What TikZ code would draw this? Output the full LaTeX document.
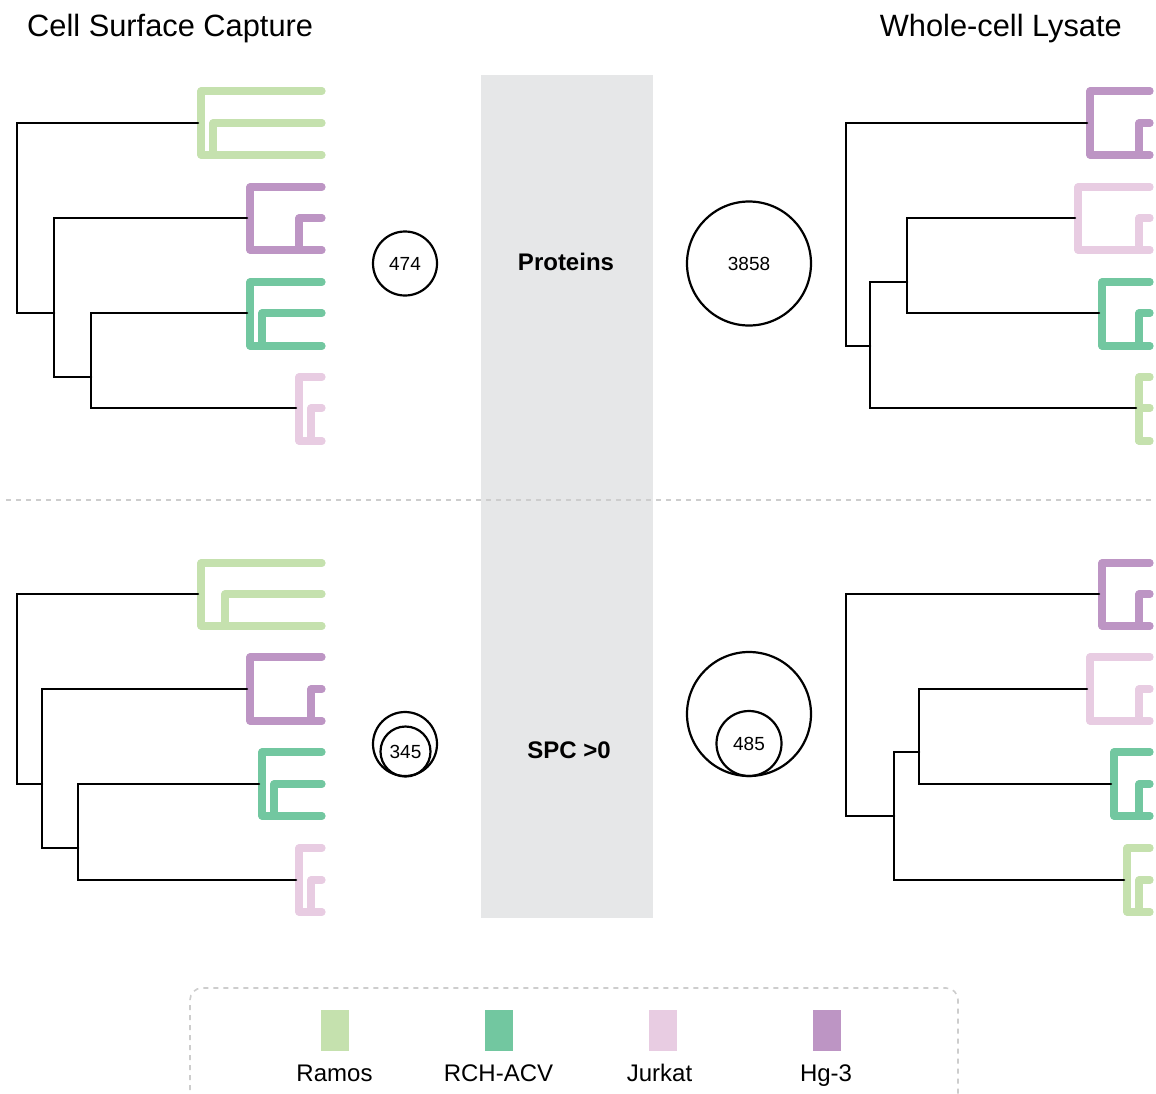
\documentclass[tikz,border=0pt]{standalone}
\usepackage{fontspec}
\setmainfont{Liberation Sans}

\definecolor{ramos}{RGB}{197,225,174}
\definecolor{rch}{RGB}{114,199,160}
\definecolor{jurkat}{RGB}{232,204,226}
\definecolor{hgthree}{RGB}{189,149,196}
\definecolor{panelgray}{RGB}{230,231,232}
\definecolor{dashgray}{RGB}{205,205,205}

\tikzset{
  clade/.style={line width=7.2pt, line cap=round, line join=round},
  stem/.style={line width=2.6pt, black, line cap=round},
  venn/.style={circle, draw=black, line width=2.2pt, inner sep=0pt,
               font=\fontsize{19}{22}\selectfont},
  heading/.style={inner sep=0pt, font=\fontsize{30.8}{36}\selectfont},
  rowlabel/.style={inner sep=0pt, font=\fontsize{24}{28}\selectfont\bfseries},
  swatch/.style={inner sep=0pt, minimum width=28pt, minimum height=41pt},
  keylabel/.style={inner sep=0pt, anchor=base, font=\fontsize{24}{28}\selectfont},
  divider/.style={dashgray, line width=2.5pt, dash pattern=on 5pt off 5pt},
}

% one coloured clade: colour, outer x, inner x, top y, middle y, bottom y, tip x
\newcommand\drawclade[7]{%
  \draw[clade,#1] (#7,#4) -- (#2,#4) -- (#2,#6) -- (#7,#6);
  \draw[clade,#1] (#7,#5) -- (#3,#5) -- (#3,#6);
}

\begin{document}
\begin{tikzpicture}[x=1pt, y=-1pt]
\useasboundingbox (0,0) rectangle (1156,1093);
\clip (0,0) rectangle (1156,1093);

% central band
\fill[panelgray] (481,75) rectangle (653,918);

% divider between the two rows
\draw[divider] (6,500) -- (1156,500);

% headings
\node[heading, anchor=base west] (hcsc) at (27,36) {Cell Surface Capture};
\node[heading, anchor=base east] (hwcl) at (1122,36) {Whole-cell Lysate};

\node[rowlabel, anchor=base] (lprot) at (566,270) {Proteins};
\node[rowlabel, anchor=base] (lspc) at (569,758) {SPC >0};

% ---------- top left ----------
\drawclade{ramos}{201}{213}{91}{123}{155}{322}
\drawclade{hgthree}{250}{299}{187}{218}{250}{322}
\drawclade{rch}{250}{262}{282}{313}{346}{322}
\drawclade{jurkat}{299}{311}{377}{408}{441}{322}
\draw[stem] (198,123) -- (17,123) -- (17,313) -- (54,313);
\draw[stem] (247,218) -- (54,218) -- (54,377) -- (91,377);
\draw[stem] (247,313) -- (91,313) -- (91,408) -- (296,408);

% ---------- top right ----------
\drawclade{hgthree}{1090}{1139}{91}{123}{155}{1150}
\drawclade{jurkat}{1078}{1139}{187}{218}{250}{1150}
\drawclade{rch}{1102}{1139}{282}{313}{346}{1150}
\drawclade{ramos}{1139}{1139}{377}{408}{441}{1150}
\draw[stem] (1087,123) -- (846,123) -- (846,346) -- (870,346);
\draw[stem] (1136,408) -- (870,408) -- (870,282) -- (907,282);
\draw[stem] (1075,218) -- (907,218) -- (907,313) -- (1099,313);

% ---------- bottom left ----------
\drawclade{ramos}{201}{225}{563}{594}{626}{322}
\drawclade{hgthree}{250}{311}{657}{689}{721}{322}
\drawclade{rch}{262}{274}{752}{784}{816}{322}
\drawclade{jurkat}{299}{311}{848}{880}{912}{322}
\draw[stem] (198,594) -- (17,594) -- (17,784) -- (42,784);
\draw[stem] (247,689) -- (42,689) -- (42,848) -- (78,848);
\draw[stem] (259,784) -- (78,784) -- (78,880) -- (296,880);

% ---------- bottom right ----------
\drawclade{hgthree}{1102}{1139}{563}{594}{626}{1150}
\drawclade{jurkat}{1090}{1139}{657}{689}{721}{1150}
\drawclade{rch}{1114}{1139}{752}{784}{816}{1150}
\drawclade{ramos}{1127}{1139}{848}{880}{912}{1150}
\draw[stem] (1099,594) -- (846,594) -- (846,816) -- (894,816);
\draw[stem] (1124,880) -- (894,880) -- (894,752) -- (919,752);
\draw[stem] (1087,689) -- (919,689) -- (919,784) -- (1111,784);

% ---------- protein counts ----------
\node[venn, minimum size=64pt] (v474) at (405,263.5) {474};
\node[venn, minimum size=124pt] (v3858) at (749,263.5) {3858};
\node[venn, minimum size=64pt] (v345out) at (405,744) {};
\node[venn, minimum size=50pt] (v345) at (405.5,751.5) {345};
\node[venn, minimum size=124pt] (v485out) at (749,714) {};
\node[venn, minimum size=65pt] (v485) at (749,743.5) {485};

% ---------- legend ----------
\draw[dashgray, line width=1.6pt, dash pattern=on 5pt off 5pt, rounded corners=12pt]
  (190,1120) -- (190,988) -- (958,988) -- (958,1120);

\node[swatch, fill=ramos]   (kramos)  at (335,1030.5) {};
\node[swatch, fill=rch]     (krch)    at (499,1030.5) {};
\node[swatch, fill=jurkat]  (kjurkat) at (663,1030.5) {};
\node[swatch, fill=hgthree] (khg)     at (827,1030.5) {};

\node[keylabel] (tramos)  at (334.5,1081) {Ramos};
\node[keylabel] (trch)    at (498.5,1081) {RCH-ACV};
\node[keylabel] (tjurkat) at (659.5,1081) {Jurkat};
\node[keylabel] (thg)     at (826,1081) {Hg-3};
\end{tikzpicture}
\end{document}
